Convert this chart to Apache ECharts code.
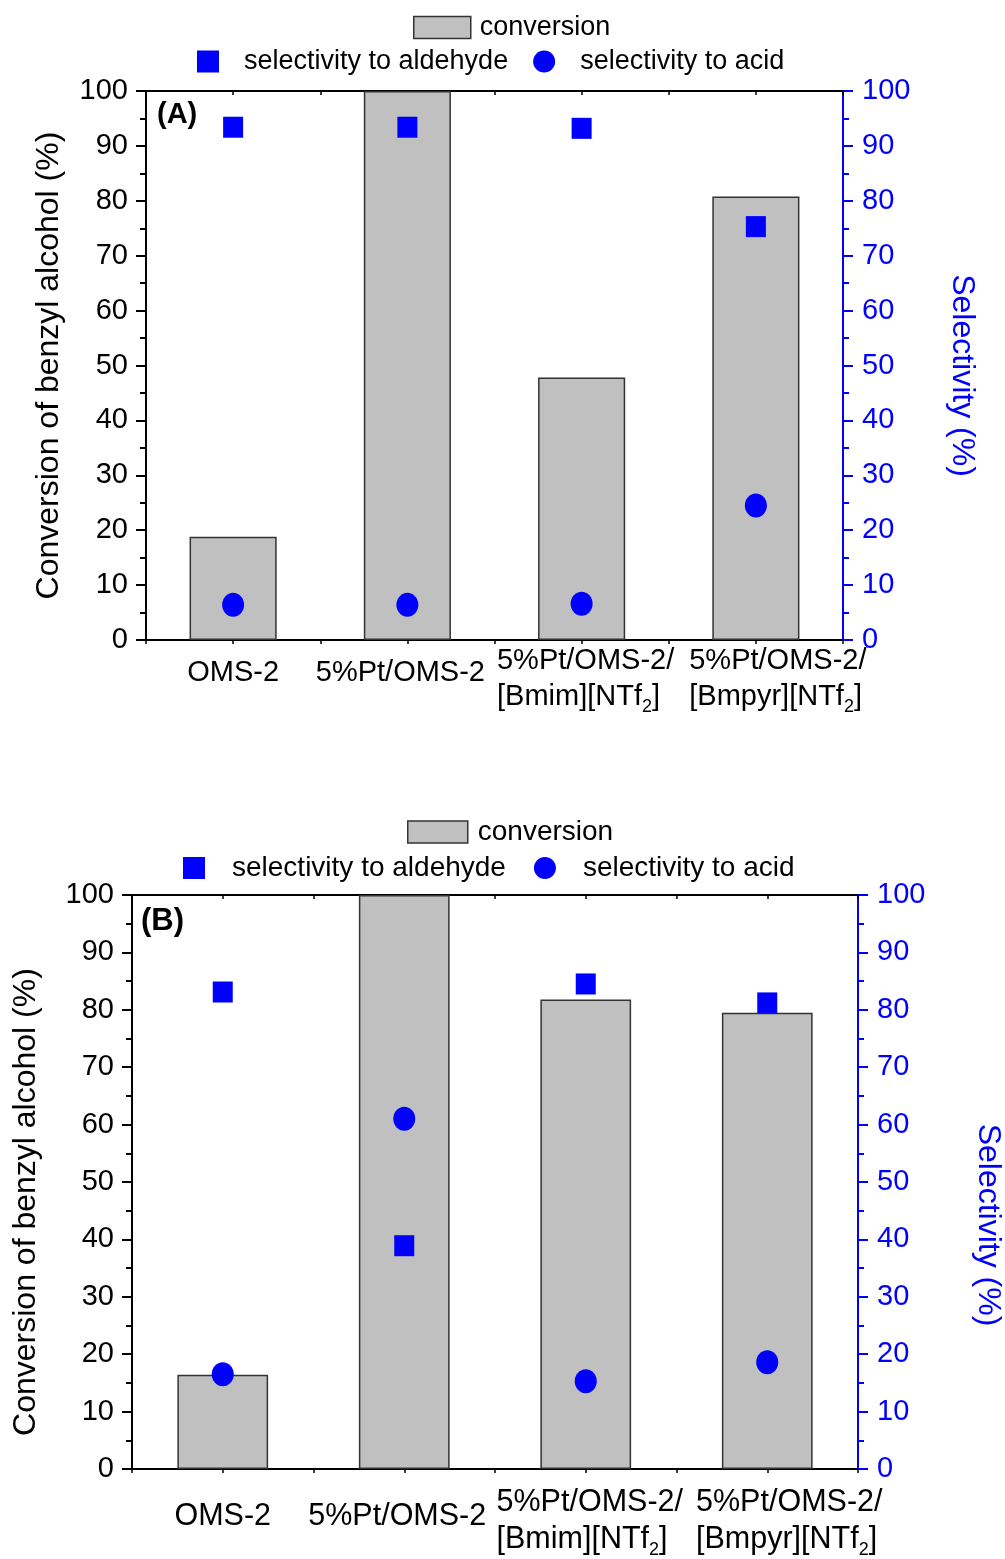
<!DOCTYPE html>
<html>
<head>
<meta charset="utf-8">
<script src="https://cdn.jsdelivr.net/npm/echarts@6/dist/echarts.min.js"></script>
<style>
  html, body { margin: 0; padding: 0; background: #fff; }
  #main { width: 1005px; height: 1559px; }
</style>
</head>
<body>
<div id="main"></div>
<script>
// categories (same for both panels)
var categories = ['OMS-2', '5%Pt/OMS-2', '5%Pt/OMS-2/\n[Bmim][NTf2]', '5%Pt/OMS-2/\n[Bmpyr][NTf2]'];
var yTicks = [0, 10, 20, 30, 40, 50, 60, 70, 80, 90, 100];

// panel (A)
var convA = [18.8, 100, 47.8, 80.8];
var aldA = [93.4, 93.4, 93.2, 75.3];
var acidA = [6.4, 6.4, 6.6, 24.5];

// panel (B)
var convB = [16.4, 100, 81.8, 79.5];
var aldB = [83.1, 38.9, 84.5, 81.2];
var acidB = [16.5, 61.0, 15.3, 18.6];

// horizontal nudge of each category label (px, + = right), as in the original figure
var labelShift = [0, -7, 4, 22];

var FONT = 'Liberation Sans, Arial, sans-serif';
var FS = 29;   // tick labels
var BLUE = '#0000ff';

var myChart = echarts.init(document.getElementById('main'));

// category label with subscript 2
function catLabel(v) {
	return v.split('\n').map(function (line) {
		if (line.indexOf('NTf2') >= 0) {
			var p = line.split('NTf2');
			return '{a|' + p[0] + 'NTf}{s|2}{a|' + p[1] + '}';
		}
		return '{a|' + line + '}';
	}).join('\n');
}

// single-line labels sit a bit lower than the first line of the two-line ones
function catData(drop) {
	return categories.map(function (c, k) {
		var s = labelShift[k];
		var top = c.indexOf('\n') >= 0 ? 0 : drop;
		return {
			value: c,
			textStyle: {
				verticalAlign: 'top',
				padding: s >= 0 ? [top, 0, 0, 2 * s] : [top, -2 * s, 0, 0]
			}
		};
	});
}

var grids = [
	{ left: 146, right: 162, top: 91, height: 549, containLabel: false, outerBoundsMode: 'none' },
	{ left: 132, right: 147, top: 895, height: 574, containLabel: false, outerBoundsMode: 'none' }
];

var xAxes = [], yAxes = [], series = [], legends = [], titles = [];

function addPanel(i, conv, ald, acid, tag, lay) {
	// category axis for data
	xAxes.push({
		type: 'category', gridIndex: i, position: 'bottom', data: catData(lay.drop),
		axisLine: { onZero: false, lineStyle: { color: '#000', width: 2 } },
		axisTick: { show: false },
		axisLabel: {
			interval: 0, margin: lay.cat, verticalAlign: 'top', formatter: catLabel,
			rich: {
				a: { fontFamily: FONT, fontSize: lay.catFs, color: '#000', lineHeight: lay.lh, align: 'left' },
				s: { fontFamily: FONT, fontSize: 18, color: '#000', padding: [20, 0, 0, 0], align: 'left' }
			}
		}
	});
	// tick-only axes at category centres and boundaries
	xAxes.push({
		type: 'value', gridIndex: i, position: 'bottom', min: 0, max: 8, interval: 1,
		axisLine: { show: false, onZero: false }, splitLine: { show: false }, axisLabel: { show: false },
		axisTick: { show: true, length: 4, lineStyle: { color: '#000', width: 1.5 } }
	});
	xAxes.push({
		type: 'value', gridIndex: i, position: 'top', min: 0, max: 8, interval: 1,
		axisLine: { show: true, onZero: false, lineStyle: { color: '#000', width: 2 } },
		splitLine: { show: false }, axisLabel: { show: false },
		axisTick: { show: true, inside: true, length: 4, lineStyle: { color: '#000', width: 1.5 } }
	});
	yAxes.push({
		type: 'value', gridIndex: i, position: 'left', min: 0, max: 100, interval: 10,
		name: 'Conversion of benzyl alcohol (%)', nameLocation: 'middle', nameGap: lay.left,
		nameTextStyle: { fontFamily: FONT, fontSize: 32, color: '#000', padding: lay.leftPad },
		axisLine: { show: true, onZero: false, lineStyle: { color: '#000', width: 2 } },
		axisTick: { show: true, length: 10, lineStyle: { color: '#000', width: 2 } },
		minorTick: { show: true, splitNumber: 2, length: 6, lineStyle: { color: '#000', width: 2 } },
		splitLine: { show: false },
		axisLabel: { fontFamily: FONT, fontSize: FS, color: '#000', margin: 18 }
	});
	yAxes.push({
		type: 'value', gridIndex: i, position: 'right', min: 0, max: 100, interval: 10,
		name: 'Selectivity (%)', nameLocation: 'middle', nameGap: lay.right, nameRotate: -90,
		nameTextStyle: { fontFamily: FONT, fontSize: 32, color: BLUE, padding: lay.rightPad },
		axisLine: { show: true, onZero: false, lineStyle: { color: BLUE, width: 2 } },
		axisTick: { show: true, length: 10, lineStyle: { color: BLUE, width: 2 } },
		minorTick: { show: true, splitNumber: 2, length: 6, lineStyle: { color: BLUE, width: 2 } },
		splitLine: { show: false },
		axisLabel: { fontFamily: FONT, fontSize: FS, color: BLUE, margin: 19 }
	});
	var xi = i * 3, yi = i * 2;
	series.push({
		name: 'conversion', type: 'bar', xAxisIndex: xi, yAxisIndex: yi, data: conv, barWidth: '50%',
		itemStyle: { color: '#c0c0c0', borderColor: '#333', borderWidth: 1.5 }, z: 2
	});
	series.push({
		name: 'selectivity to aldehyde', type: 'scatter', xAxisIndex: xi, yAxisIndex: yi + 1, data: ald,
		symbol: 'rect', symbolSize: [20, 21], itemStyle: { color: BLUE, opacity: 1 }, z: 5
	});
	series.push({
		name: 'selectivity to acid', type: 'scatter', xAxisIndex: xi, yAxisIndex: yi + 1, data: acid,
		symbol: 'circle', symbolSize: [22, 24], itemStyle: { color: BLUE, opacity: 1 }, z: 5
	});
	legends.push({
		data: [{ name: 'conversion', icon: 'rect' }], left: lay.convX, top: lay.convY, padding: 0,
		itemWidth: lay.convW, itemHeight: 22,
		textStyle: { fontFamily: FONT, fontSize: lay.legFs, color: '#000', padding: [0, 0, 0, lay.convPad] },
		itemStyle: { borderColor: '#333', borderWidth: 1.5 }
	});
	legends.push({
		data: ['selectivity to aldehyde', 'selectivity to acid'], left: lay.selX, top: lay.selY, padding: 0,
		itemWidth: 22, itemHeight: 22, itemGap: lay.gap,
		textStyle: { fontFamily: FONT, fontSize: lay.legFs, color: '#000', padding: [0, 0, 0, lay.pad] }
	});
	titles.push({
		text: tag, left: lay.tagX, top: lay.tagY, padding: 0,
		textStyle: { fontFamily: FONT, fontSize: lay.tagFs, fontWeight: 'bold', color: '#000' }
	});
}

addPanel(0, convA, aldA, acidA, '(A)', {
	convX: 413, convY: 14, convW: 57, convPad: 4, legFs: 27,
	selX: 197, selY: 48, gap: 25, pad: 20,
	tagX: 157, tagY: 100, tagFs: 29,
	cat: 3, drop: 12, lh: 35, catFs: 29,
	left: 81, leftPad: [0, 0, 0, 0],
	right: 103, rightPad: [0, 0, 0, 20]
});
addPanel(1, convB, aldB, acidB, '(B)', {
	convX: 407, convY: 818, convW: 60, convPad: 5, legFs: 28,
	selX: 183, selY: 854, gap: 28, pad: 22,
	tagX: 141, tagY: 906, tagFs: 31,
	cat: 15, drop: 14, lh: 37, catFs: 30.5,
	left: 90, leftPad: [0, 40, 0, 0],
	right: 114, rightPad: [0, 0, 0, 86]
});

myChart.setOption({
	backgroundColor: '#fff',
	animation: false,
	title: titles,
	legend: legends,
	grid: grids,
	xAxis: xAxes,
	yAxis: yAxes,
	series: series
});
</script>
</body>
</html>
